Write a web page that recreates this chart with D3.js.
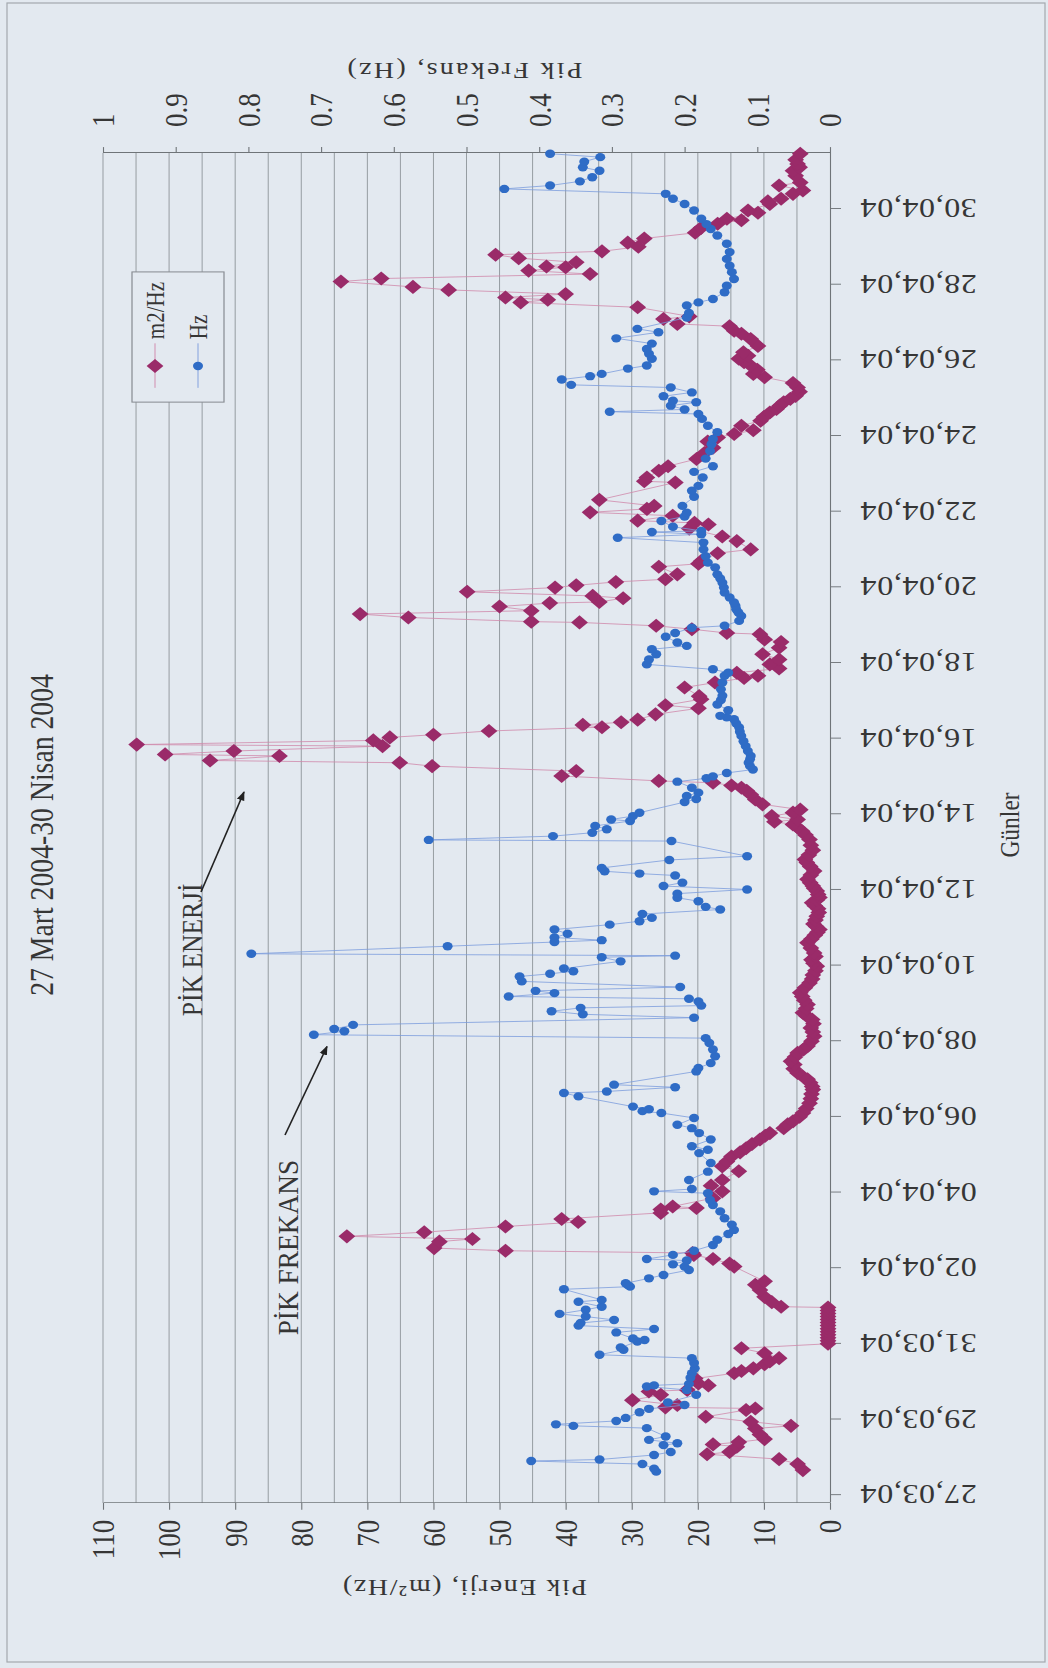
<!DOCTYPE html>
<html><head><meta charset="utf-8">
<script src="https://cdn.jsdelivr.net/npm/d3@7"></script>
<style>html,body{margin:0;padding:0;background:#e4eaf1;} svg{display:block;}</style>
</head><body><svg id="c" width="1048" height="1668"></svg>
<script>
// ---------- data (days counted from 27.03.2004 00:00) ----------
const dateLabels = ["27,03,04","29,03,04","31,03,04","02,04,04","04,04,04","06,04,04","08,04,04","10,04,04","12,04,04","14,04,04","16,04,04","18,04,04","20,04,04","22,04,04","24,04,04","26,04,04","28,04,04","30,04,04"];
const dateTickDays = [0,2,4,6,8,10,12,14,16,18,20,22,24,26,28,30,32,34];
const energyTicks = [0,10,20,30,40,50,60,70,80,90,100,110];
const freqTicks = [0,0.1,0.2,0.3,0.4,0.5,0.6,0.7,0.8,0.9,1];
const freqTickLabels = ["0","0.1","0.2","0.3","0.4","0.5","0.6","0.7","0.8","0.9","1"];

const energyDays = [0.66,0.82,0.95,1.08,1.14,1.28,1.34,1.40,1.48,1.60,1.76,1.83,1.94,2.07,2.25,2.29,2.32,2.38,2.51,2.65,2.74,2.78,2.90,2.95,3.08,3.22,3.28,3.35,3.46,3.53,3.62,3.75,3.88,
4.00,4.08,4.16,4.24,4.32,4.40,4.48,4.56,4.64,4.72,4.80,4.88,4.96,
4.98,5.10,5.24,5.42,5.56,5.65,6.04,6.12,6.24,6.35,6.40,6.46,6.53,6.70,6.77,6.84,6.95,7.10,7.22,7.30,7.46,7.55,7.59,7.63,7.85,8.03,8.18,8.33,8.56,8.69,8.82,8.95,9.06,9.17,9.28,9.40,9.50,9.57,9.70,9.80,9.88,10.00,
10.10,10.22,10.36,10.48,10.60,10.72,10.80,10.90,10.99,11.08,11.16,11.27,11.38,11.47,11.58,11.69,11.78,11.87,12.00,12.13,12.24,12.35,12.46,12.57,12.66,12.75,12.86,12.97,13.08,13.18,13.28,13.41,13.54,13.64,13.75,13.86,13.98,14.06,14.15,14.24,14.33,14.46,14.60,14.70,14.80,14.88,14.95,15.03,15.10,15.20,15.30,15.40,15.50,15.58,15.66,15.73,15.80,15.88,15.97,16.04,16.10,16.19,16.28,16.39,16.50,16.62,16.72,16.80,16.92,17.05,17.18,17.33,17.45,17.55,17.65,17.73,
17.80,17.86,17.95,18.04,18.12,18.26,18.39,18.52,18.62,18.70,18.76,18.83,18.88,19.01,19.14,19.27,19.36,19.42,19.54,19.58,19.67,19.80,19.84,19.95,20.03,20.10,20.20,20.30,20.36,20.43,20.50,20.64,20.80,20.88,21.04,21.12,21.35,21.48,21.60,21.66,21.74,21.85,21.96,22.09,22.23,22.40,22.55,22.62,22.76,22.79,22.89,22.98,
23.07,23.09,23.20,23.29,23.38,23.49,23.58,23.61,23.71,23.77,23.88,23.99,24.05,24.14,24.21,24.34,24.54,24.62,24.69,24.90,25.00,25.22,25.34,25.55,25.66,25.70,25.76,25.89,25.98,26.07,26.15,26.31,26.77,26.80,26.90,27.08,27.20,27.39,27.55,27.69,27.85,27.96,28.05,28.15,28.27,28.40,28.50,28.62,28.71,28.80,28.89,28.98,29.06,29.17,29.28,29.40,29.55,29.64,29.75,29.86,29.95,30.04,30.12,30.21,30.38,30.56,30.70,30.78,30.90,30.96,31.09,31.16,
31.40,31.53,31.60,31.66,31.75,31.86,31.94,32.08,32.16,32.28,32.37,32.46,32.48,32.59,32.70,32.79,32.88,33.00,33.11,33.22,33.37,33.50,33.61,33.70,33.74,33.90,33.96,34.13,34.20,34.27,34.40,34.49,34.62,34.70,34.88,35.01,35.10,35.19,35.30,35.46];
const energyValues = [4.1,4.9,7.7,18.6,15.2,14.1,17.7,13.8,9.9,10.6,11.3,5.9,12.0,18.8,12.7,11.3,24.9,23.1,29.9,25.6,27.4,21.6,18.4,19.9,20.4,14.5,13.4,11.6,9.9,9.1,7.7,9.9,13.4,
0.3,0.3,0.3,0.3,0.3,0.3,0.3,0.3,0.3,0.3,0.3,0.3,0.3,
7.4,8.8,9.9,10.6,11.3,9.9,14.5,15.2,17.7,20.6,20.8,49.1,59.9,59.1,54.1,73.1,61.4,49.1,38.1,40.6,25.6,25.6,20.2,23.8,17.7,16.3,18.0,16.3,13.8,16.3,15.6,14.9,13.6,12.7,11.8,10.6,9.8,9.1,7.0,6.4,5.6,4.6,
4.1,3.6,3.1,2.9,2.8,2.6,2.7,3.0,3.4,4.2,4.9,5.5,5.4,5.9,5.3,4.9,4.0,3.4,2.8,2.4,2.6,2.9,2.5,2.7,3.5,4.1,3.6,3.4,3.9,4.2,4.5,3.8,3.1,2.7,2.6,2.2,2.0,2.5,2.8,2.2,2.4,2.9,3.4,2.8,2.3,1.9,1.6,2.1,2.5,2.2,2.0,1.7,1.8,2.3,2.7,2.0,1.6,1.8,2.0,2.4,2.6,3.0,3.4,2.9,2.4,3.0,3.5,3.8,3.2,2.6,2.9,3.1,3.7,4.2,4.9,5.6,
8.4,4.9,8.8,5.6,4.5,10.2,11.3,12.0,12.6,13.4,14.9,17.7,25.9,40.6,38.4,60.2,65.1,93.8,83.3,100.6,90.2,67.7,104.9,69.1,66.6,60.0,51.6,34.5,37.4,31.6,29.1,26.4,19.9,24.9,19.5,19.8,22.0,17.4,13.0,10.9,14.1,7.7,9.1,7.7,10.2,7.7,7.4,9.9,10.6,15.6,20.9,26.3,
37.9,45.2,63.8,71.1,45.2,50.0,42.4,34.9,31.3,35.9,54.9,41.6,38.4,32.4,24.9,23.1,25.9,19.9,19.5,17.0,12.0,14.1,16.3,21.3,18.4,20.5,29.1,23.8,36.3,27.7,26.6,34.9,23.4,28.1,27.7,25.9,24.5,20.2,19.0,17.7,18.5,17.0,14.5,11.6,13.4,10.5,10.0,9.1,8.1,7.6,7.0,6.0,5.2,4.6,4.9,5.6,9.9,11.6,11.0,12.0,13.0,13.8,12.4,13.1,10.9,12.0,13.4,14.5,15.2,23.1,25.2,21.3,
29.1,46.8,42.7,49.1,40.0,57.7,63.1,74.0,67.9,36.3,45.6,40.0,42.9,38.4,47.1,50.6,34.5,29.0,30.6,28.1,20.4,19.5,17.0,13.4,15.6,10.9,12.4,9.1,9.4,7.4,5.6,4.1,7.7,4.5,5.2,5.6,4.6,4.9,5.2,4.5];

const freqDays = [0.62,0.70,0.82,0.90,0.94,1.06,1.14,1.32,1.37,1.46,1.55,1.77,1.83,1.87,1.96,2.04,2.19,2.28,2.38,2.45,2.65,2.78,2.87,2.90,2.94,3.10,3.22,3.35,3.49,3.62,3.71,3.84,3.90,4.06,4.10,4.14,4.30,4.39,4.48,4.55,4.63,4.72,4.79,4.90,4.98,5.11,5.16,5.44,5.51,5.55,5.60,5.73,5.82,5.95,6.04,6.10,6.20,6.24,6.35,6.46,6.61,6.75,6.90,7.01,7.15,7.32,7.50,7.67,7.80,7.98,8.03,8.09,8.33,8.55,8.78,
9.04,9.13,9.22,9.40,9.57,9.70,9.79,9.97,10.10,10.15,10.20,10.27,10.54,10.63,10.67,10.78,10.85,11.20,11.29,11.42,11.60,11.78,11.95,12.08,12.17,12.26,12.32,12.43,12.62,12.71,12.79,12.88,12.94,13.05,13.12,13.18,13.27,13.33,13.43,13.58,13.71,13.78,13.85,13.92,14.11,14.22,14.26,14.31,14.51,14.62,14.67,14.74,14.84,14.95,15.08,15.17,15.26,15.36,15.48,15.55,15.70,15.79,15.90,16.01,16.10,16.19,16.38,16.43,16.49,16.58,16.79,16.89,17.29,17.32,17.42,17.51,17.60,17.69,17.82,17.86,17.95,18.04,
18.32,18.40,18.48,18.57,18.70,18.86,18.95,19.00,19.09,19.18,19.27,19.36,19.45,19.54,19.67,19.80,19.93,20.07,20.18,20.29,20.40,20.51,20.56,20.60,20.75,20.90,21.02,21.13,21.30,21.48,21.66,21.74,21.83,21.96,22.09,22.23,22.36,22.45,22.54,22.69,22.79,22.93,22.98,23.11,23.24,23.33,23.42,23.51,23.60,23.73,23.86,23.99,24.12,24.23,24.34,24.52,24.65,24.82,25.00,25.18,25.31,25.40,25.46,25.49,25.60,25.75,25.87,25.97,26.15,26.39,26.55,26.68,
26.90,27.05,27.20,27.40,27.60,27.78,27.92,28.10,28.27,28.45,28.58,28.64,28.70,28.80,28.89,28.93,29.05,29.15,29.28,29.35,29.49,29.58,29.64,29.78,29.86,30.04,30.17,30.30,30.44,30.58,30.74,30.83,31.13,31.25,31.45,31.53,31.62,31.80,31.97,32.15,32.33,32.50,32.68,32.86,33.08,33.30,33.47,33.60,33.74,33.96,34.13,34.27,34.40,34.53,34.62,34.73,34.84,35.01,35.10,35.25,35.37,35.46];
const freqValues = [0.239,0.242,0.258,0.411,0.317,0.242,0.219,0.229,0.210,0.249,0.226,0.252,0.353,0.377,0.294,0.281,0.262,0.249,0.200,0.223,0.184,0.197,0.252,0.242,0.194,0.192,0.190,0.186,0.187,0.190,0.317,0.284,0.288,0.265,0.255,0.271,0.294,0.242,0.346,0.343,0.297,0.336,0.372,0.336,0.314,0.346,0.314,0.366,0.275,0.278,0.281,0.249,0.229,0.194,0.200,0.216,0.197,0.252,0.216,0.187,0.161,0.155,0.140,0.132,0.135,0.145,0.151,0.161,0.165,0.168,0.242,0.190,0.194,0.168,0.164,
0.180,0.168,0.190,0.164,0.180,0.190,0.210,0.187,0.232,0.258,0.249,0.271,0.346,0.366,0.307,0.213,0.297,0.184,0.181,0.164,0.158,0.161,0.166,0.171,0.710,0.668,0.682,0.656,0.187,0.340,0.383,0.343,0.177,0.181,0.194,0.442,0.379,0.405,0.206,0.424,0.427,0.385,0.353,0.366,0.288,0.314,0.213,0.796,0.526,0.379,0.314,0.379,0.361,0.379,0.303,0.262,0.245,0.258,0.151,0.171,0.181,0.210,0.210,0.114,0.229,0.203,0.213,0.262,0.310,0.314,0.221,0.114,0.218,0.552,0.381,0.327,0.307,0.323,0.275,0.301,0.271,0.262,
0.200,0.184,0.197,0.181,0.190,0.210,0.170,0.161,0.142,0.106,0.110,0.112,0.110,0.109,0.113,0.116,0.119,0.122,0.124,0.125,0.129,0.132,0.142,0.151,0.140,0.155,0.150,0.148,0.150,0.148,0.145,0.140,0.161,0.252,0.249,0.239,0.245,0.197,0.210,0.226,0.213,0.190,0.145,0.125,0.122,0.126,0.129,0.130,0.132,0.138,0.145,0.146,0.148,0.151,0.155,0.158,0.168,0.171,0.174,0.174,0.292,0.177,0.245,0.177,0.216,0.232,0.200,0.197,0.203,0.187,0.190,0.181,
0.175,0.187,0.161,0.171,0.165,0.163,0.161,0.155,0.168,0.176,0.181,0.303,0.200,0.219,0.184,0.216,0.229,0.190,0.219,0.356,0.369,0.330,0.314,0.278,0.252,0.245,0.249,0.252,0.245,0.294,0.236,0.265,0.197,0.194,0.197,0.181,0.161,0.145,0.142,0.132,0.135,0.138,0.142,0.138,0.142,0.155,0.164,0.170,0.177,0.187,0.200,0.216,0.226,0.448,0.385,0.344,0.327,0.317,0.340,0.338,0.316,0.385];

// ---------- drawing ----------
const W = 1048, H = 1668, SX = 0.84;
const BG = "#e3e9f0", TXT = "#363636", FONT = "'Liberation Serif','Times New Roman',serif";
const E_COL = "#9a2b69", E_LINE = "#cf86a9", F_COL = "#2f6cc6", F_LINE = "#7a9bdc";

const svg = d3.select("#c");
svg.append("rect").attr("width", W).attr("height", H).attr("fill", BG);
svg.append("rect").attr("x", 7).attr("y", 3).attr("width", 1038).attr("height", 1659)
  .attr("fill", "none").attr("stroke", "#a3a8ae").attr("stroke-width", 1.2);

// chart drawn in its own (unrotated) frame, then turned a quarter turn counter-clockwise
const g = svg.append("g").attr("transform", `translate(0,${H}) rotate(-90) scale(${SX},1)`);

const x = d3.scaleLinear().domain([-0.21, 35.48]).range([196.4, 1803.6]);
const yE = d3.scaleLinear().domain([0, 110]).range([830, 103]);
const yF = d3.scaleLinear().domain([0, 1]).range([830, 103]);
const [x0, x1] = x.range();

// gridlines every 5 energy units
g.append("g").selectAll("line").data(d3.range(5, 111, 5)).join("line")
  .attr("x1", x0).attr("x2", x1).attr("y1", d => yE(d)).attr("y2", d => yE(d))
  .attr("stroke", "#8f959b").attr("stroke-width", 1);

function styleAxis(sel) {
  sel.selectAll("path,line").attr("stroke", "#6f7478").attr("stroke-width", 1.1);
  sel.selectAll("text").attr("fill", TXT).attr("font-family", FONT);
}

const axL = g.append("g").attr("transform", `translate(${x0},0)`)
  .call(d3.axisLeft(yE).tickValues(energyTicks).tickFormat(d3.format("d")).tickSize(8).tickPadding(12).tickSizeOuter(0));
styleAxis(axL); axL.selectAll("text").attr("font-size", 32).attr("dy", "0.34em");

const axR = g.append("g").attr("transform", `translate(${x1},0)`)
  .call(d3.axisRight(yF).tickValues(freqTicks).tickFormat((d, i) => freqTickLabels[i]).tickSize(7).tickPadding(24).tickSizeOuter(0));
styleAxis(axR); axR.selectAll("text").attr("font-size", 32).attr("dy", "0.34em");

const axB = g.append("g").attr("transform", `translate(0,${yE(0)})`)
  .call(d3.axisBottom(x).tickValues(dateTickDays).tickFormat((d, i) => dateLabels[i]).tickSize(11).tickSizeOuter(0));
styleAxis(axB);
axB.selectAll("text").attr("font-size", 32).attr("letter-spacing", "0.6px")
  .attr("transform", "rotate(-90)").attr("x", -30).attr("y", 0).attr("dy", "0.35em").attr("text-anchor", "end");

// ---------- series ----------
const energy = energyDays.map((d, i) => [d, energyValues[i]]);
const freq = freqDays.map((d, i) => [d, freqValues[i]]);

g.append("path").datum(energy)
  .attr("d", d3.line().x(d => x(d[0])).y(d => yE(d[1])))
  .attr("fill", "none").attr("stroke", E_LINE).attr("stroke-width", 1).attr("stroke-opacity", 0.85);
const dia = "M0,-8.4L8.4,0L0,8.4L-8.4,0Z";
g.append("g").selectAll("path").data(energy).join("path")
  .attr("d", dia).attr("transform", d => `translate(${x(d[0])},${yE(d[1])})`).attr("fill", E_COL);

g.append("path").datum(freq)
  .attr("d", d3.line().x(d => x(d[0])).y(d => yF(d[1])))
  .attr("fill", "none").attr("stroke", F_LINE).attr("stroke-width", 1).attr("stroke-opacity", 0.85);
g.append("g").selectAll("circle").data(freq).join("circle")
  .attr("cx", d => x(d[0])).attr("cy", d => yF(d[1])).attr("r", 5).attr("fill", F_COL);

// ---------- texts ----------
g.append("text").attr("x", 991.7).attr("y", 53).attr("text-anchor", "middle")
  .attr("font-family", FONT).attr("font-size", 33).attr("fill", TXT).text("27 Mart 2004-30 Nisan 2004");

g.append("text").attr("x", 1003.6).attr("y", 1019).attr("text-anchor", "middle")
  .attr("font-family", FONT).attr("font-size", 28).attr("fill", TXT).text("Günler");

g.append("text").attr("transform", "translate(104.8,465) rotate(-90)").attr("text-anchor", "middle")
  .attr("font-family", FONT).attr("font-size", 28).attr("fill", TXT)
  .attr("textLength", 244).attr("lengthAdjust", "spacing").text("Pik Enerji, (m²/Hz)");

g.append("text").attr("transform", "translate(1910.7,465) rotate(-90)").attr("text-anchor", "middle")
  .attr("font-family", FONT).attr("font-size", 28).attr("fill", TXT)
  .attr("textLength", 235).attr("lengthAdjust", "spacing").text("Pik Frekans, (Hz)");

// annotations
const defs = svg.append("defs");
defs.append("marker").attr("id", "arr").attr("viewBox", "0 0 10 10").attr("refX", 9).attr("refY", 5)
  .attr("markerWidth", 7).attr("markerHeight", 7).attr("orient", "auto")
  .append("path").attr("d", "M0,1.5L10,5L0,8.5Z").attr("fill", "#222");

g.append("text").attr("x", 776).attr("y", 202).attr("font-family", FONT).attr("font-size", 30)
  .attr("fill", TXT).attr("textLength", 158).attr("lengthAdjust", "spacingAndGlyphs").text("PİK ENERJİ");
g.append("line").attr("x1", 923.8).attr("y1", 201).attr("x2", 1042.9).attr("y2", 244)
  .attr("stroke", "#222").attr("stroke-width", 1.6).attr("marker-end", "url(#arr)");

g.append("text").attr("x", 396).attr("y", 298).attr("font-family", FONT).attr("font-size", 30)
  .attr("fill", TXT).attr("textLength", 209).attr("lengthAdjust", "spacingAndGlyphs").text("PİK FREKANS");
g.append("line").attr("x1", 634.5).attr("y1", 285).attr("x2", 740).attr("y2", 327)
  .attr("stroke", "#222").attr("stroke-width", 1.6).attr("marker-end", "url(#arr)");

// legend
const lg = g.append("g");
lg.append("rect").attr("x", 1507).attr("y", 132).attr("width", 155).attr("height", 92)
  .attr("fill", BG).attr("stroke", "#868b91").attr("stroke-width", 1.2);
const legendItems = [
  {label: "m2/Hz", v: 155, type: "e"},
  {label: "Hz", v: 198, type: "f"}
];
legendItems.forEach(it => {
  lg.append("line").attr("x1", 1524).attr("x2", 1577).attr("y1", it.v).attr("y2", it.v)
    .attr("stroke", it.type === "e" ? E_LINE : F_LINE).attr("stroke-width", 1);
  if (it.type === "e") lg.append("path").attr("d", dia).attr("transform", `translate(1550,${it.v})`).attr("fill", E_COL);
  else lg.append("circle").attr("cx", 1550).attr("cy", it.v).attr("r", 5).attr("fill", F_COL);
  lg.append("text").attr("x", 1582).attr("y", it.v + 9).attr("font-family", FONT).attr("font-size", 25)
    .attr("fill", TXT).text(it.label);
});
</script>
</body></html>
